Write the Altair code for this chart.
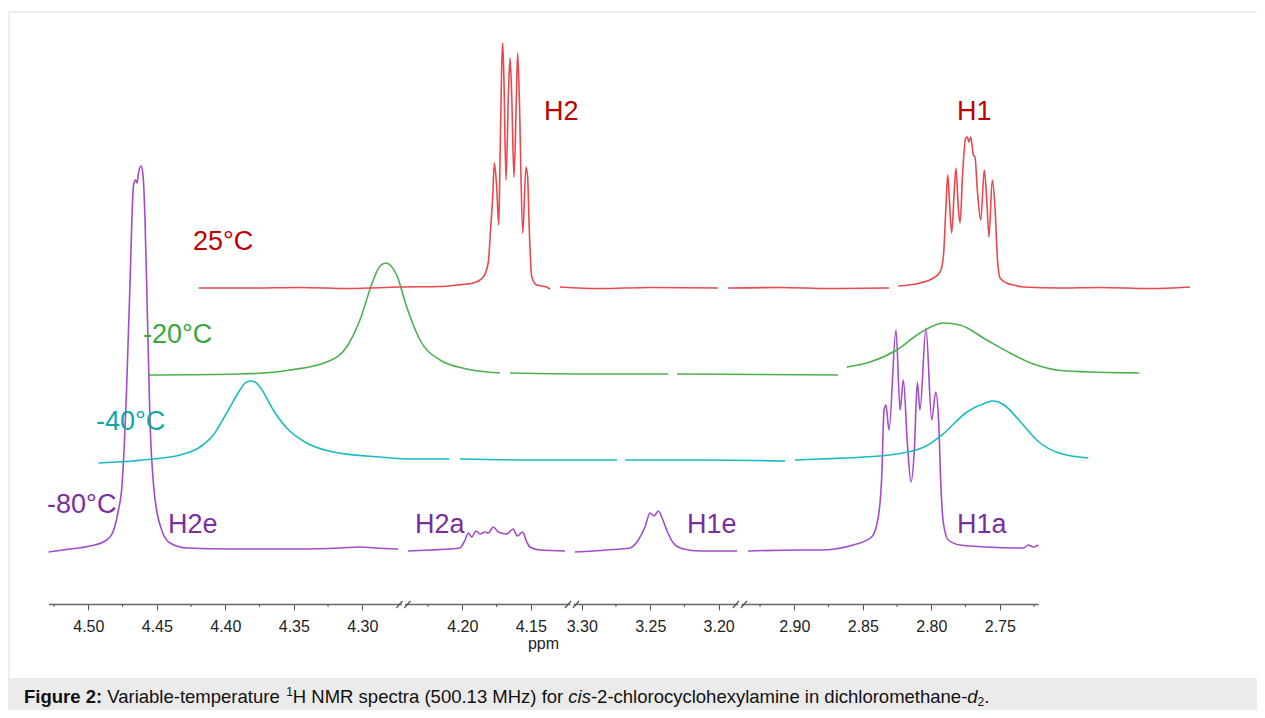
import altair as alt
import pandas as pd

# ---------------- data ----------------
# broken ppm axis: kept segments (start ppm, end ppm)
SEG_START = [4.529, 4.243, 3.3071, 2.9397]
SEG_END = [4.270, 4.1199, 3.1845, 2.722]

MAJOR_TICKS = [4.50, 4.45, 4.40, 4.35, 4.30, 4.20, 4.15, 3.30, 3.25, 3.20, 2.90, 2.85, 2.80, 2.75]
MINOR_TICKS = [4.525, 4.475, 4.425, 4.375, 4.325, 4.225, 4.175, 3.275, 3.225,
               2.925, 2.875, 2.825, 2.775, 2.725]

TEMPERATURES = ["-80°C", "-40°C", "-20°C", "25°C"]
BASELINE = [0, 90, 175, 262]          # stacked-plot vertical offset of each spectrum

# -80 °C spectrum (ppm, intensity)
M80_PPM = [4.529, 4.5134, 4.4988, 4.4878, 4.4827, 4.4783, 4.4754, 4.4721, 4.4696, 4.4681, 4.4670,
           4.4655, 4.4645, 4.4634, 4.4615, 4.4601, 4.4586, 4.4568, 4.4550, 4.4524, 4.4499, 4.4462,
           4.4404, 4.4280, 4.3966, 4.3455, 4.3163, 4.3017, 4.2907, 4.2739,
           4.2396, 4.2236, 4.2017, 4.1980, 4.1956, 4.1931, 4.1900, 4.1871, 4.1834, 4.1810, 4.1774,
           4.1737, 4.1676, 4.1628, 4.1599, 4.1559, 4.1535, 4.1506, 4.1433, 4.1250,
           3.3049, 3.2818, 3.2647, 3.2587, 3.2538, 3.2501, 3.2472, 3.2441, 3.2416, 3.2380, 3.2331,
           3.2258, 3.2137, 3.1866,
           2.9338, 2.8958, 2.8812, 2.8569, 2.8435, 2.8387, 2.8362, 2.8345, 2.8331, 2.8309, 2.8258,
           2.8228, 2.8204, 2.8175, 2.8148, 2.8124, 2.8102, 2.8083, 2.8039, 2.7997, 2.7968, 2.7946,
           2.7931, 2.7912, 2.7876, 2.7790, 2.7596, 2.7328, 2.7292, 2.7255, 2.7219]
M80_INT = [-2, 1, 4, 9, 16, 38, 65, 160, 265, 335, 365,
           370, 367, 377, 384, 375, 330, 230, 130, 65, 38, 19,
           7, 2, 1, 1, 2, 3, 2, 1,
           -1, 0, 2, 10, 17, 13, 19, 16, 18, 17, 23,
           18, 16, 21, 14, 18, 10, 3, 0, -1,
           -2, 0, 2, 10, 23, 37, 34, 39, 33, 20, 7,
           1, -1, -1,
           -1, 0, 0, 5, 13, 33, 73, 140, 145, 120, 220,
           140, 170, 107, 68, 100, 168, 140, 222, 130, 158, 127,
           67, 27, 10, 5, 3, 2, 5, 3, 5]

# -40 °C spectrum
M40_PPM = [4.529, 4.4891, 4.4696, 4.4550, 4.4453, 4.4355, 4.4258, 4.4221, 4.4185, 4.4148, 4.4112,
           4.4015, 4.3917, 4.3771, 4.3577, 4.3236, 4.2993, 4.2730,
           4.2382, 4.1798, 4.1236,
           3.3049, 3.2501, 3.1881,
           2.9360, 2.9177, 2.8671, 2.8417, 2.8271, 2.8115, 2.7969, 2.7918, 2.7875, 2.7824, 2.7726,
           2.7580, 2.7434, 2.7219]
M40_INT = [-3, 1, 5, 13, 25, 47, 70, 77, 79, 78, 73,
           50, 32, 17, 8, 3, 1, 1,
           1, 0, 0,
           0, 0, -1,
           0, 1, 5, 13, 27, 47, 57, 59, 58, 54, 40,
           18, 7, 2]

# -20 °C spectrum
M20_PPM = [4.529, 4.4623, 4.4258, 4.3990, 4.3844, 4.3747, 4.3650, 4.3601, 4.3557, 4.3520, 4.3479,
           4.3406, 4.3309, 4.3163, 4.2968, 4.2725,
           4.2382, 4.1798, 4.1228,
           3.3034, 3.2428, 3.1859,
           2.9347, 2.9177, 2.8982, 2.8812, 2.8642, 2.8520, 2.8326, 2.8155, 2.7985, 2.7742, 2.7212]
M20_INT = [0, 1, 5, 13, 28, 55, 95, 109, 112, 109, 100,
           68, 35, 15, 6, 2,
           2, 1, 1,
           1, 0.5, 0,
           8, 13, 25, 42, 52, 50, 35, 22, 11, 4, 2]

# 25 °C spectrum
P25_PPM = [4.529, 4.4915, 4.4550, 4.4185, 4.3820, 4.3528, 4.3406, 4.3285, 4.3212, 4.3175, 4.3159,
           4.3143, 4.3131, 4.3114, 4.3099, 4.3090, 4.3077, 4.3070, 4.3061, 4.3046, 4.3029, 4.3017,
           4.3004, 4.2988, 4.2973, 4.2961, 4.2949, 4.2924, 4.2900, 4.2888, 4.2876, 4.2858, 4.2822,
           4.2749, 4.2725,
           4.2382, 4.2090, 4.1725, 4.1228,
           3.3027, 3.2647, 3.2282, 3.1852,
           2.9336, 2.9177, 2.9092, 2.9031, 2.9007, 2.8988, 2.8975, 2.8964, 2.8946, 2.8927, 2.8915,
           2.8898, 2.8885, 2.8866, 2.8844, 2.8832, 2.8820, 2.8807, 2.8788, 2.8776, 2.8759, 2.8734,
           2.8708, 2.8690, 2.8674, 2.8650, 2.8630, 2.8613, 2.8593, 2.8545, 2.8496, 2.8423, 2.8155,
           2.7864, 2.7499, 2.7207]
P25_INT = [0, 0, 0.5, -0.5, 1, 1.5, 3, 5, 11, 26, 58,
           91, 125, 101, 63, 125, 225, 245, 208, 108, 191, 230,
           191, 111, 175, 235, 191, 55, 121, 111, 58, 11, 3,
           1, -1,
           1, -0.5, 0.5, 0,
           0, 0.5, -0.5, 0,
           2, 5, 9, 16, 31, 81, 113, 91, 55, 98, 120,
           81, 65, 115, 150, 151, 146, 151, 133, 131, 98, 68,
           118, 88, 51, 108, 81, 31, 10, 5, 3, 1, 0,
           0.5, -0.5, 1]

LABEL_TEXT = ["25°C", "H2", "H1", "-20°C", "-40°C", "-80°C", "H2e", "H2a", "H1e", "H1a"]
LABEL_PPM = [4.4236, 4.1404, 2.7812, 4.4601, 4.4944, 4.5301, 4.4418, 4.2345, 3.2231, 2.7812]
LABEL_V = [300, 430, 430, 207, 120, 37, 17, 17, 17, 17]
LABEL_COLOR = ["#c00000", "#c00000", "#c00000", "#39a83a", "#0fa6a8", "#7a2ea0",
               "#7a2ea0", "#7a2ea0", "#7a2ea0", "#7a2ea0"]

CAPTION = [("Figure 2:", "bold", "normal", 1.0, 0),
           ("Variable-temperature", "normal", "normal", 1.0, 0),
           ("1", "normal", "normal", 0.65, -7),
           ("H NMR spectra (500.13 MHz) for", "normal", "normal", 1.0, 0),
           ("cis", "normal", "italic", 1.0, 0),
           ("-2-chlorocyclohexylamine in dichloromethane-", "normal", "normal", 1.0, 0),
           ("d", "normal", "italic", 1.0, 0),
           ("2", "normal", "normal", 0.65, 3),
           (".", "normal", "normal", 1.0, 0)]
CAPTION_SPACE_AFTER = [True, True, False, True, False, False, False, False, False]

# ---------------- layout / styling ----------------
W, H = 1248, 592                      # plot area ends at the ppm axis line
FRAME_H = 666                         # bottom of the framed figure (caption box starts here)
TOTAL_H = 698
X_RANGE = [39.6, 394.4, 394.4, 563.0, 563.0, 730.9, 730.9, 1029.2]
X_DOMAIN = [v for pair in zip(SEG_START, SEG_END) for v in pair]
XS = alt.Scale(domain=X_DOMAIN, range=X_RANGE, zero=False, nice=False)
YS = alt.Scale(domain=[-54, 538], zero=False, nice=False)
AXIS_V = -54
LINE_COLORS = ["#a24ccb", "#18bcc2", "#4cb050", "#e8494e"]
X_SHIFT = [0, 50, 100, 150]
FONT = "Liberation Sans"
CAP_FS = 18.5

W_REG = {' ': 278, '(': 333, ')': 333, '-': 333, '.': 278, ':': 278,
         'A': 667, 'C': 722, 'F': 611, 'H': 722, 'M': 833, 'N': 722, 'R': 722, 'V': 667,
         'a': 556, 'b': 556, 'c': 500, 'd': 556, 'e': 556, 'f': 278, 'g': 556, 'h': 556,
         'i': 222, 'l': 222, 'm': 833, 'n': 556, 'o': 556, 'p': 556, 'r': 333, 's': 500,
         't': 278, 'u': 556, 'x': 500, 'y': 500, 'z': 500}
W_BOLD = {' ': 278, ':': 333, 'F': 611, 'i': 278, 'g': 611, 'u': 611, 'r': 389, 'e': 556}


def text_width(s, size, weight):
    table = W_BOLD if weight == "bold" else W_REG
    return sum(table.get(c, 556) for c in s) * size / 1000.0


def seg_of(p):
    return 0 if p > 4.256 else (1 if p > 3.7 else (2 if p > 3.06 else 3))


def trace_df(ppm, inten, base):
    return pd.DataFrame({"ppm": ppm, "v": [i + base for i in inten],
                         "seg": [seg_of(p) for p in ppm], "idx": list(range(len(ppm)))})


traces = [(M80_PPM, M80_INT), (M40_PPM, M40_INT), (M20_PPM, M20_INT), (P25_PPM, P25_INT)]

AXIS = alt.Axis(values=MAJOR_TICKS, format=".2f", title="ppm", titleX=534, titleY=44,
                titleBaseline="alphabetic", titleAlign="center", titleFontSize=16,
                titleFontWeight="normal", titleFont=FONT, titleColor="#222222",
                labelFont=FONT, labelFontSize=16, labelColor="#222222", labelPadding=8,
                labelOverlap=False, labelFlush=False, labelBound=False,
                tickSize=6, tickColor="#555555", tickWidth=1,
                domainColor="#666666", domainWidth=1.5, grid=False)


def X():
    return alt.X("ppm:Q", scale=XS, axis=AXIS)


def Y(field="v:Q"):
    return alt.Y(field, scale=YS, axis=None)


layers = []

# caption box and figure frame
one = pd.DataFrame({"a": [0]})
layers.append(alt.Chart(one).mark_rect(color="#ebebeb").encode(
    x=alt.value(-1), x2=alt.value(W + 1), y=alt.value(FRAME_H), y2=alt.value(TOTAL_H + 2)))
layers.append(alt.Chart(one).mark_rule(color="#dcdcdc", strokeWidth=1).encode(
    x=alt.value(0), x2=alt.value(W), y=alt.value(0)))
layers.append(alt.Chart(one).mark_rule(color="#dcdcdc", strokeWidth=1).encode(
    x=alt.value(0), y=alt.value(0), y2=alt.value(FRAME_H)))

# spectra
for k, (pp, ii) in enumerate(traces):
    df = trace_df(pp, ii, BASELINE[k])
    layers.append(alt.Chart(df).mark_line(color=LINE_COLORS[k], strokeWidth=1.6,
                                          interpolate="monotone", xOffset=X_SHIFT[k]).encode(
        x=X(), y=Y(), detail="seg:N", order="idx:Q"))

# minor ticks
minor_df = pd.DataFrame({"ppm": MINOR_TICKS, "v": [AXIS_V] * len(MINOR_TICKS),
                         "v2": [AXIS_V - 3] * len(MINOR_TICKS)})
layers.append(alt.Chart(minor_df).mark_rule(color="#555555", strokeWidth=1).encode(
    x=X(), y=Y(), y2="v2:Q"))

# axis break marks
brk_df = pd.DataFrame({"ppm": SEG_END[:3], "v": [AXIS_V] * 3})
layers.append(alt.Chart(brk_df).mark_rule(color="#ffffff", strokeWidth=4,
                                          xOffset=-1.5, x2Offset=1.5).encode(
    x=X(), x2="ppm:Q", y=Y()))
for x0, x1 in [(-7, -1), (1, 7)]:
    layers.append(alt.Chart(brk_df).mark_rule(color="#555555", strokeWidth=1.2,
                                              xOffset=x0, x2Offset=x1, yOffset=4, y2Offset=-3).encode(
        x=X(), x2="ppm:Q", y=Y(), y2="v:Q"))

# labels
lab_df = pd.DataFrame({"t": LABEL_TEXT, "ppm": LABEL_PPM, "v": LABEL_V, "c": LABEL_COLOR})
layers.append(alt.Chart(lab_df).mark_text(align="left", baseline="alphabetic", fontSize=27,
                                          font=FONT).encode(
    x=X(), y=Y(), text="t:N", color=alt.Color("c:N", scale=None)))

# caption
cx = 15.0
base_y = 691
for (txt, wt, st, rel, dy), sp in zip(CAPTION, CAPTION_SPACE_AFTER):
    size = CAP_FS * rel
    layers.append(alt.Chart(pd.DataFrame({"t": [txt]})).mark_text(
        align="left", baseline="alphabetic", font=FONT, fontSize=size, fontWeight=wt,
        fontStyle=st, color="#111111").encode(
        x=alt.value(cx), y=alt.value(base_y + dy), text="t:N"))
    cx += text_width(txt, size, wt)
    if sp:
        cx += text_width(" ", CAP_FS, "normal")

chart = alt.layer(*layers).properties(
    width=W, height=H, autosize="none",
    padding={"left": 1, "top": 4, "right": 0, "bottom": TOTAL_H - H}
).configure_view(stroke=None)

chart.save("out.html", embed_options={"renderer": "svg", "actions": False})
